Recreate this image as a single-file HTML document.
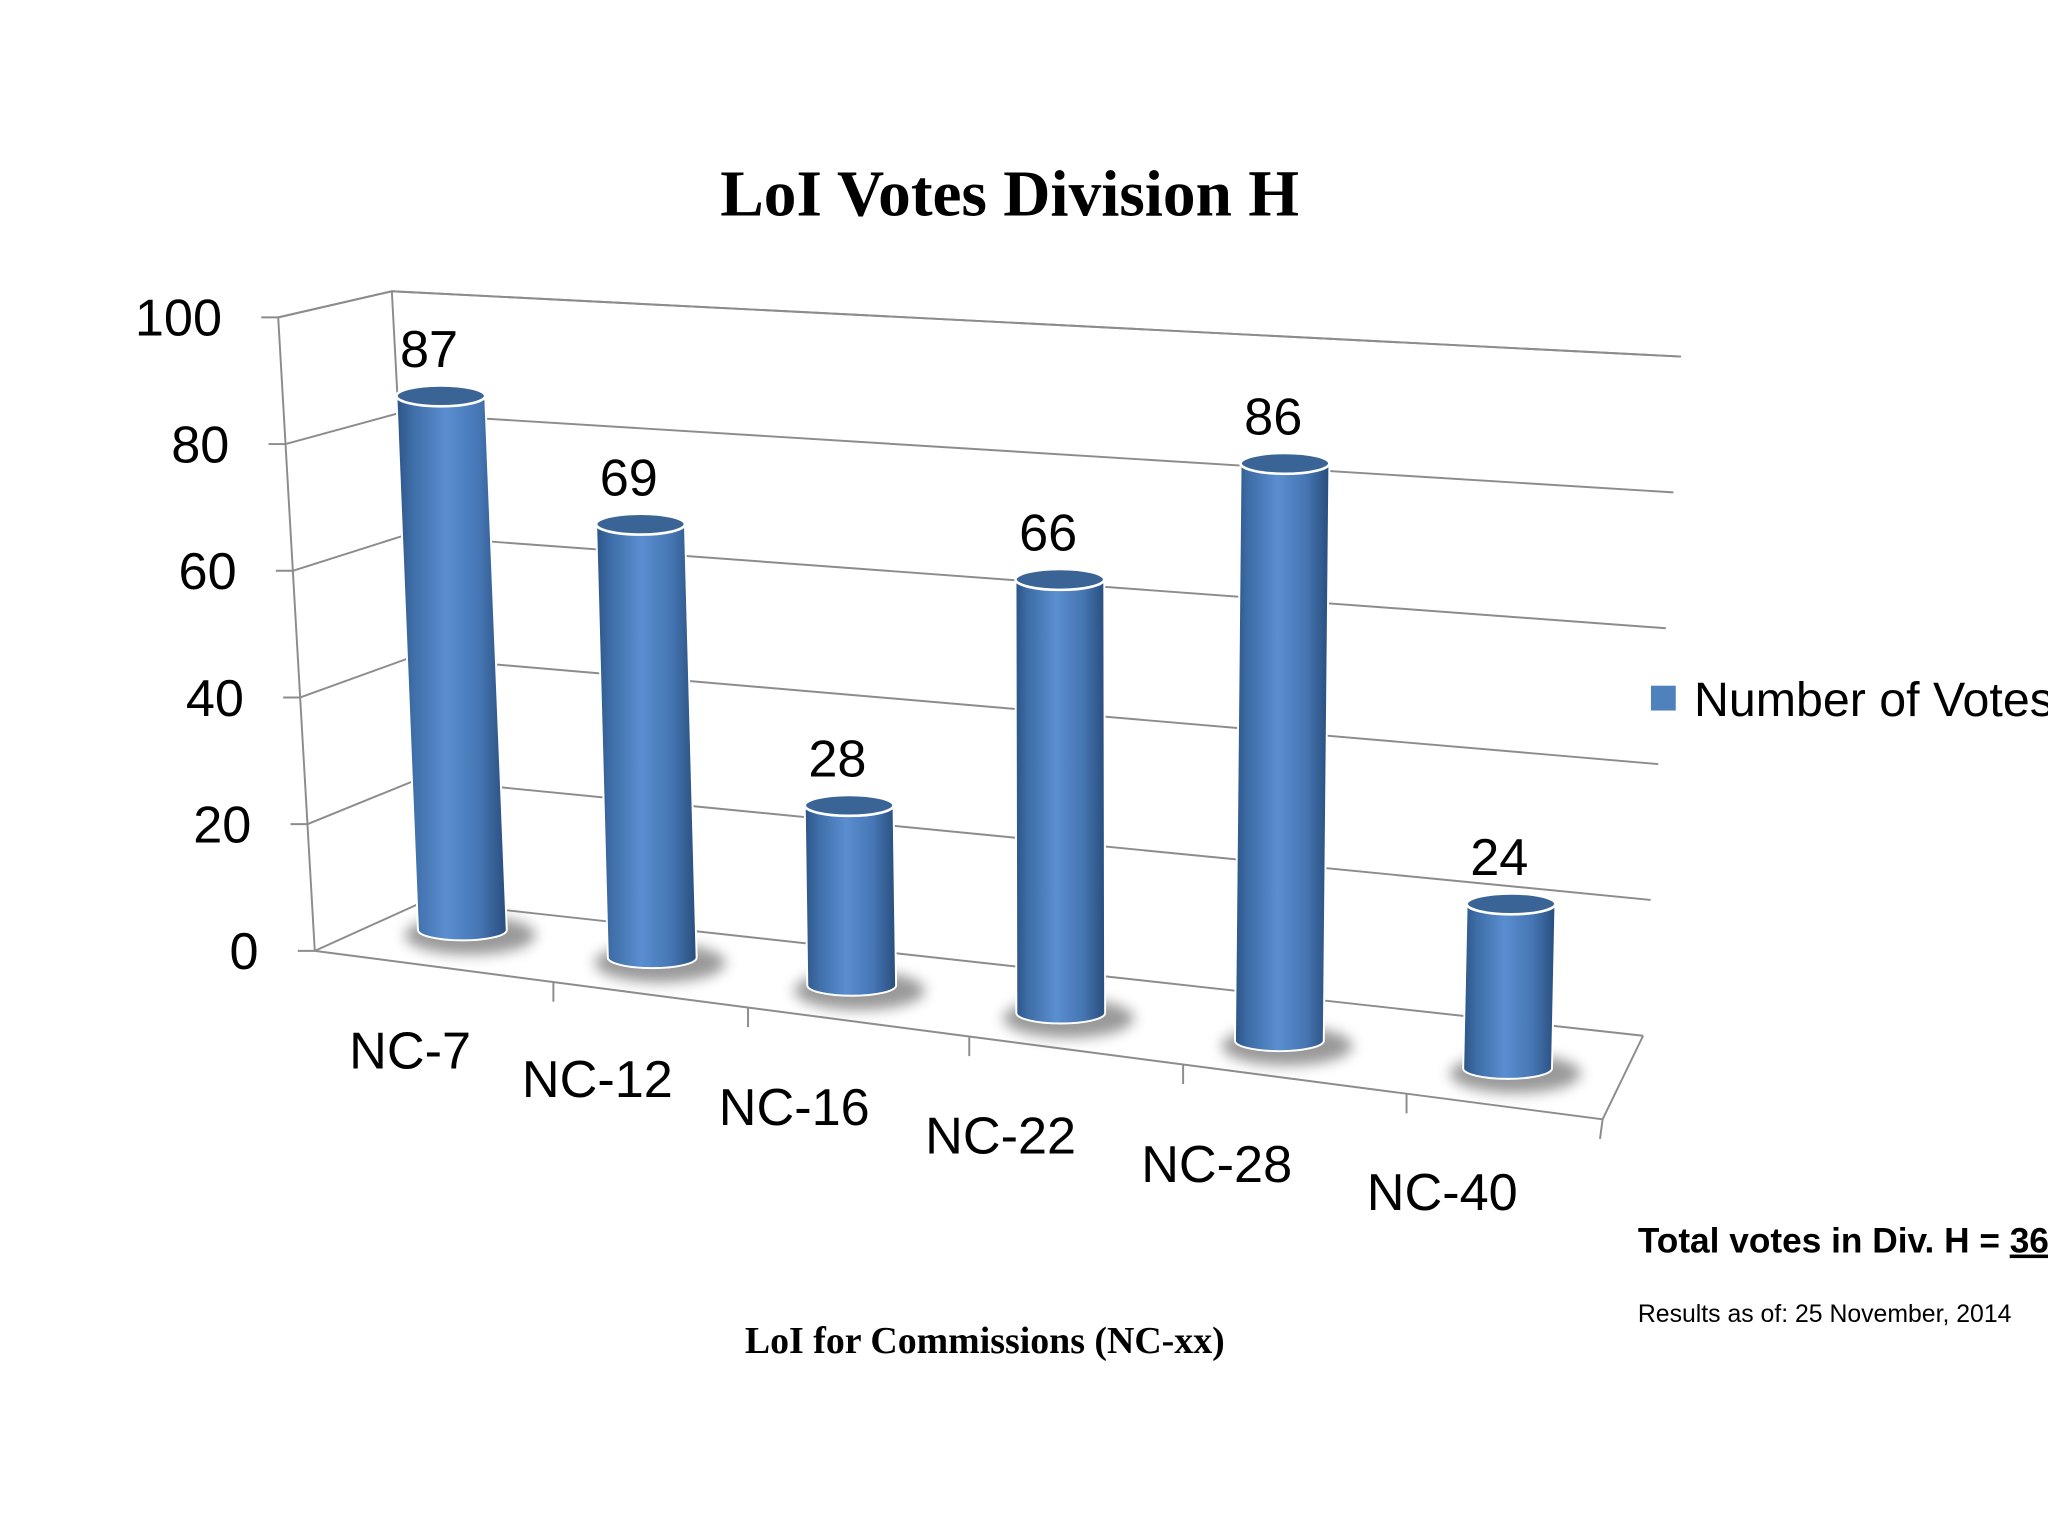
<!DOCTYPE html>
<html><head><meta charset="utf-8"><style>
html,body{margin:0;padding:0;background:#fff;overflow:hidden}
svg{display:block}
text{font-family:"Liberation Sans",sans-serif}
.serif{font-family:"Liberation Serif",serif;font-weight:bold}
</style></head><body>
<svg id="chart" width="2048" height="1536" viewBox="0 0 1568 1176" xmlns="http://www.w3.org/2000/svg">
<defs>
<linearGradient id="cyl" x1="0" x2="1" y1="0" y2="0">
<stop offset="0" stop-color="#2c5587"/><stop offset="0.15" stop-color="#3f6ea8"/>
<stop offset="0.45" stop-color="#5a8ed0"/><stop offset="0.75" stop-color="#4676b4"/>
<stop offset="1" stop-color="#284d7c"/></linearGradient>
<filter id="blur" x="-50%" y="-50%" width="200%" height="200%"><feGaussianBlur stdDeviation="5"/></filter>
</defs>
<text class="serif" x="773" y="165" font-size="50" text-anchor="middle">LoI Votes Division H</text>
<g id="grid" stroke="#8c8c8c" stroke-width="1.5" fill="none"></g>
<g id="axis"></g>
<g id="bars"></g>
<g id="cats"></g>
<rect x="1264" y="525" width="19" height="19" fill="#4f81bd"/>
<text x="1297" y="548" font-size="37">Number of Votes</text>
<text class="serif" x="754" y="1036" font-size="29" text-anchor="middle">LoI for Commissions (NC-xx)</text>
<text x="1254" y="959" font-size="27" font-weight="bold">Total votes in Div. H = <tspan text-decoration="underline">360</tspan></text>
<text x="1254" y="1012" font-size="19">Results as of: 25 November, 2014</text>
</svg>
<script>
const categories = ["NC-7","NC-12","NC-16","NC-22","NC-28","NC-40"];
const votes = [87,69,28,66,86,24];
const yTicks = [0,20,40,60,80,100];
const yMax = 100;

const NS = "http://www.w3.org/2000/svg";
function mk(tag, attrs, parent){const e=document.createElementNS(NS,tag);for(const k in attrs)e.setAttribute(k,attrs[k]);parent.appendChild(e);return e;}
function lerp(a,b,t){return a+(b-a)*t;}
// axis functions
function frontAxis(v){const t=v/yMax;return [lerp(241,213,t), lerp(728,243,t)];}
function backLeft(v){const t=v/yMax;return [lerp(325,300,t), lerp(690,223,t)];}
function backRight(v){const t=v/yMax;return [lerp(1258,1287,t), lerp(793,273,t)];}
function barBottomX(i){return 354+141.7*i+3.67*i*i;}
function barBottomY(i){return 712+21.2*i;}
function barScale(i){return 4.70+0.11*i;}
function barTilt(i){return -0.19+0.06*i;}
function yPix(i,v){return barBottomY(i)-barScale(i)*v;}
function xTop(i,v){return barBottomX(i)+barTilt(i)*v;}

const grid=document.getElementById('grid');
const axis=document.getElementById('axis');
// walls / floor outlines
let p=mk('path',{d:`M${frontAxis(0)} L${frontAxis(yMax)} L${backLeft(yMax)} L${backRight(yMax)}`},grid);


p=mk('path',{d:`M${backLeft(0)} L${backLeft(yMax)}`},grid);


p=mk('path',{d:`M${frontAxis(0)} L1227,857 L${backRight(0)} M1227,857 L1225,872`},grid);


yTicks.forEach(v=>{
  const f=frontAxis(v),bl=backLeft(v),br=backRight(v);
  const g=mk('path',{d:`M${f[0]},${f[1]} L${bl[0]},${bl[1]} L${br[0]},${br[1]} M${f[0]-13},${f[1]} L${f[0]},${f[1]}`},grid);
  
  
  const t=mk('text',{x:f[0]-43,y:f[1]+14,'font-size':40,'text-anchor':'end'},axis);
  t.textContent=v;
  
  
});
// category tick marks along front floor edge
for(let i=0;i<categories.length-1;i++){
  const x=(barBottomX(i)+barBottomX(i+1))/2+(i<2?-3:10);
  const y=lerp(728,857,(x-241)/(1227-241));
  const tk=mk('path',{d:`M${x},${y} L${x},${y+15}`},grid);
  
  
}
const bars=document.getElementById('bars');
const cats=document.getElementById('cats');
const rx=34, ry=8;
votes.forEach((v,i)=>{
  const bx=barBottomX(i), by=barBottomY(i), tx=xTop(i,v), ty=yPix(i,v);
  const g=mk('g',{},bars);
  
  
  const sh=mk('ellipse',{cx:bx+6,cy:by+4,rx:rx+16,ry:ry+7,fill:'#777',opacity:0.75,filter:'url(#blur)'},g);
  
  
  const body=mk('path',{d:`M${tx-rx},${ty} L${bx-rx},${by} A${rx},${ry} 0 0 0 ${bx+rx},${by} L${tx+rx},${ty} Z`,fill:'url(#cyl)',stroke:'#fff','stroke-width':1.5},g);
  
  
  const top=mk('ellipse',{cx:tx,cy:ty,rx:rx,ry:ry,fill:'#3b6496',stroke:'#fff','stroke-width':2},g);
  
  
  const lbl=mk('text',{x:tx-9,y:ty-22,'font-size':40,'text-anchor':'middle'},g);
  lbl.textContent=v;
  
  
  const c=mk('text',{x:bx-40+i*-2,y:by+106+i*0.5,'font-size':40,'text-anchor':'middle'},cats);
  c.textContent=categories[i];
  
  
});
</script>
</body></html>
